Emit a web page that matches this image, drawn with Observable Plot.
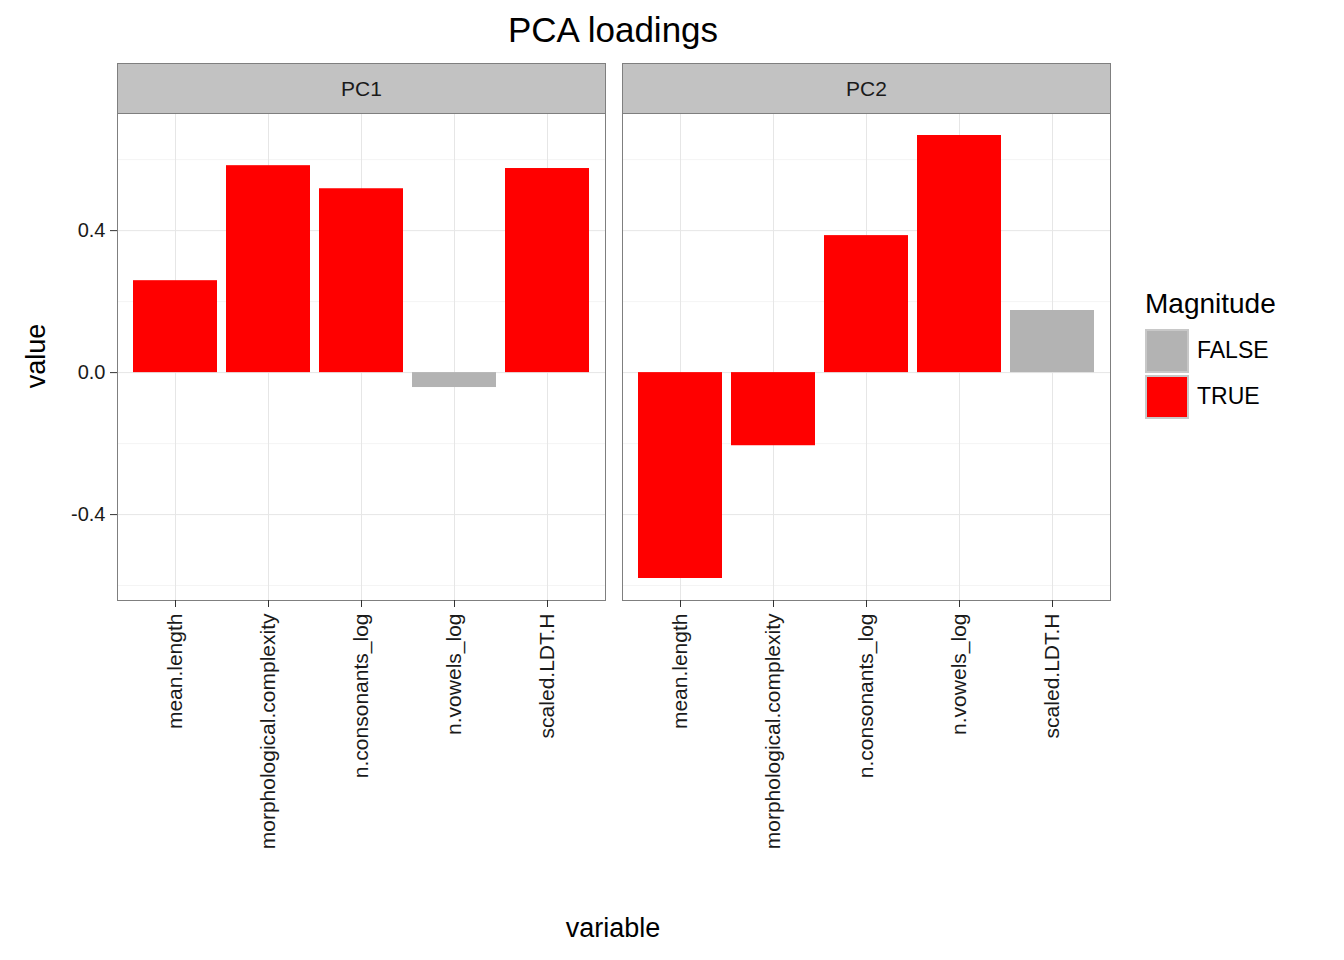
<!DOCTYPE html>
<html>
<head>
<meta charset="utf-8">
<script src="https://cdn.jsdelivr.net/npm/d3@7"></script>
<script src="https://cdn.jsdelivr.net/npm/@observablehq/plot@0.6"></script>
<style>
  body { margin: 0; background: #fff; font-family: "Liberation Sans", Arial, sans-serif; }
  #wrap { position: relative; width: 1344px; height: 960px; }
  .abs { position: absolute; }
  .strip { background: #c2c2c2; border: 1px solid #7f7f7f; box-sizing: border-box; height: 51px;
           display: flex; align-items: center; justify-content: center; font-size: 21px; color: #1a1a1a; }
  .key { width: 44px; height: 44px; box-sizing: border-box; border: 2px solid #c8c8c8; }
</style>
</head>
<body>
<div id="wrap">
  <div class="abs" style="left:0;width:1226px;top:10px;text-align:center;font-size:35px;">PCA loadings</div>
  <div id="chart" class="abs" style="left:0;top:63px;"></div>
  <div class="abs strip" style="left:117px;top:63px;width:489px;">PC1</div>
  <div class="abs strip" style="left:622px;top:63px;width:489px;">PC2</div>
  <div class="abs" style="left:36px;top:356px;transform:translate(-50%,-50%) rotate(-90deg);font-size:27px;">value</div>
  <div class="abs" style="left:613px;top:928px;transform:translate(-50%,-50%);font-size:27px;">variable</div>
  <div class="abs" style="left:1145px;top:288px;font-size:28px;">Magnitude</div>
  <div class="abs key" style="left:1145px;top:329px;background:#b3b3b3;"></div>
  <div class="abs key" style="left:1145px;top:375px;background:#ff0000;"></div>
  <div class="abs" style="left:1197px;top:337px;font-size:23px;">FALSE</div>
  <div class="abs" style="left:1197px;top:383px;font-size:23px;">TRUE</div>
</div>
<script>
const variables = ["mean.length", "morphological.complexity", "n.consonants_log", "n.vowels_log", "scaled.LDT.H"]
const components = ["PC1", "PC2"]
const pc1Values = [0.259, 0.583, 0.518, -0.042, 0.575]
const pc2Values = [-0.580, -0.206, 0.386, 0.668, 0.175]
const pc1Magnitude = [true, true, true, false, true]
const pc2Magnitude = [true, true, true, true, false]
const majorTicks = [-0.4, 0, 0.4]
const minorTicks = [-0.6, -0.2, 0.2, 0.6]

const data = []
variables.forEach((v, i) => {
  data.push({ pc: "PC1", variable: v, value: pc1Values[i], mag: pc1Magnitude[i] })
  data.push({ pc: "PC2", variable: v, value: pc2Values[i], mag: pc2Magnitude[i] })
})

const chart = Plot.plot({
  width: 1344,
  height: 897,
  marginLeft: 117,
  marginRight: 234,
  marginTop: 50,
  marginBottom: 360,
  style: { fontFamily: "Liberation Sans, Arial, sans-serif", color: "#1a1a1a" },
  fx: { domain: components, axis: null, paddingInner: 0.0337, paddingOuter: 0 },
  x: { domain: variables, axis: null, paddingInner: 0.1, paddingOuter: 0.15 },
  y: { domain: [-0.642, 0.730], axis: null },
  marks: [
    Plot.ruleY(minorTicks, { stroke: "#f4f4f4", strokeWidth: 1 }),
    Plot.ruleY(majorTicks, { stroke: "#e6e6e6", strokeWidth: 1 }),
    Plot.ruleX(data, { x: "variable", fx: "pc", stroke: "#e6e6e6", strokeWidth: 1 }),
    Plot.barY(data, {
      fx: "pc", x: "variable", y: "value",
      fill: d => d.mag ? "#ff0000" : "#b3b3b3"
    }),
    Plot.frame({ stroke: "#7f7f7f" }),
    Plot.axisX({ tickRotate: -90, fontSize: 21, label: null, tickSize: 7, tickPadding: 6, stroke: "#333" }),
    Plot.axisY({
      ticks: majorTicks, tickFormat: d => d3.format(".1f")(d).replace("−", "-"), fontSize: 20, label: null,
      tickSize: 7, tickPadding: 5, stroke: "#333", facetAnchor: "left"
    })
  ]
})
document.getElementById("chart").append(chart)
</script>
</body>
</html>
